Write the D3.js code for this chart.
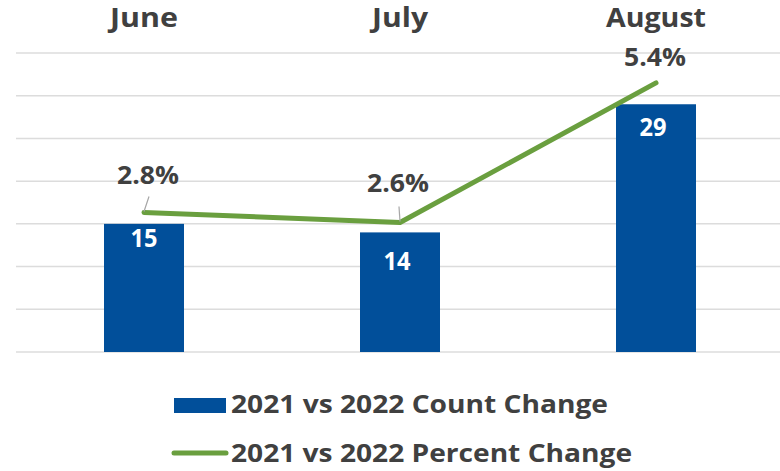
<!DOCTYPE html>
<html>
<head>
<meta charset="utf-8">
<script src="https://cdn.jsdelivr.net/npm/d3@7"></script>
<style>
  html, body { margin: 0; padding: 0; background: #fff; }
  text { font-family: "Open Sans", "DejaVu Sans", sans-serif; font-weight: 700; }
</style>
</head>
<body>
<svg id="chart" width="780" height="471"></svg>
<script>
// Monthly change figures
const months = ["June", "July", "August"];
const countChange = [15, 14, 29];
const percentChange = [2.8, 2.6, 5.4];
const countTicks = [0, 5, 10, 15, 20, 25, 30, 35];
const seriesNames = ["2021 vs 2022 Count Change", "2021 vs 2022 Percent Change"];

const W = 780, H = 471;
const BLUE = "#014F9A", GREEN = "#6A9F3F", INK = "#404040", GRID = "#DCDCDC";

const svg = d3.select("#chart");

// Plot geometry
const plotTop = 53, plotBottom = 352;
const x = d3.scaleBand().domain(months).range([16, 784]);
const cx = m => x(m) + x.bandwidth() / 2;
const yCount = d3.scaleLinear().domain([0, 35]).range([plotBottom, plotTop]);
const yPct = d3.scaleLinear().domain([0, 6]).range([plotBottom, plotTop]);

// Horizontal gridlines
svg.append("g")
  .selectAll("line")
  .data(countTicks)
  .join("line")
  .attr("x1", 16).attr("x2", W)
  .attr("y1", d => yCount(d)).attr("y2", d => yCount(d))
  .attr("stroke", GRID).attr("stroke-width", 1.5);

// Month headers along the top
const headerWidths = [68, 56, 100];
svg.append("g")
  .selectAll("text")
  .data(months)
  .join("text")
  .attr("x", d => cx(d))
  .attr("y", 27)
  .attr("text-anchor", "middle")
  .attr("font-size", 26)
  .attr("fill", INK)
  .attr("textLength", (d, i) => headerWidths[i])
  .attr("lengthAdjust", "spacingAndGlyphs")
  .text(d => d);

// Count bars
const bw = 80;
svg.append("g")
  .selectAll("rect")
  .data(countChange)
  .join("rect")
  .attr("x", (d, i) => cx(months[i]) - bw / 2)
  .attr("y", d => yCount(d))
  .attr("width", bw)
  .attr("height", d => plotBottom - yCount(d))
  .attr("fill", BLUE);

// Bar value labels
const barLabelDrop = [23, 38, 32];
svg.append("g")
  .selectAll("text")
  .data(countChange)
  .join("text")
  .attr("x", (d, i) => cx(months[i]) - (i === 0 ? 0 : 3))
  .attr("y", (d, i) => yCount(d) + barLabelDrop[i])
  .attr("text-anchor", "middle")
  .attr("font-size", 25)
  .attr("fill", "#fff")
  .attr("textLength", 27)
  .attr("lengthAdjust", "spacingAndGlyphs")
  .text(d => d);

// Percent line
const line = d3.line()
  .x((d, i) => cx(months[i]))
  .y(d => yPct(d));
svg.append("path")
  .datum(percentChange)
  .attr("d", line)
  .attr("fill", "none")
  .attr("stroke", GREEN)
  .attr("stroke-width", 5)
  .attr("stroke-linecap", "round")
  .attr("stroke-linejoin", "round");

// Percent labels with leader lines
const pctLabelRise = [28, 30, 17];
const pctLabelShift = [4, -2, -1];
const pctG = svg.append("g");
percentChange.forEach((v, i) => {
  const px = cx(months[i]);
  const py = yPct(v);
  if (pctLabelRise[i] > 20) {
    pctG.append("line")
      .attr("x1", px + pctLabelShift[i] + 1).attr("y1", py - 16)
      .attr("x2", px).attr("y2", py - 1)
      .attr("stroke", "#A6A6A6").attr("stroke-width", 1.2);
  }
  pctG.append("text")
    .attr("x", px + pctLabelShift[i])
    .attr("y", py - pctLabelRise[i])
    .attr("text-anchor", "middle")
    .attr("font-size", 25)
    .attr("fill", INK)
    .attr("textLength", 62)
    .attr("lengthAdjust", "spacingAndGlyphs")
    .text(d3.format(".1f")(v) + "%");
});

// Legend
const legend = svg.append("g");
legend.append("rect")
  .attr("x", 174).attr("y", 398).attr("width", 52).attr("height", 15)
  .attr("fill", BLUE);
legend.append("line")
  .attr("x1", 174).attr("x2", 226).attr("y1", 453).attr("y2", 453)
  .attr("stroke", GREEN).attr("stroke-width", 5).attr("stroke-linecap", "round");
const legendWidths = [377, 401];
legend.selectAll("text")
  .data(seriesNames)
  .join("text")
  .attr("x", 231)
  .attr("y", (d, i) => i === 0 ? 413 : 462)
  .attr("font-size", 25)
  .attr("fill", INK)
  .attr("textLength", (d, i) => legendWidths[i])
  .attr("lengthAdjust", "spacingAndGlyphs")
  .text(d => d);
</script>
</body>
</html>
